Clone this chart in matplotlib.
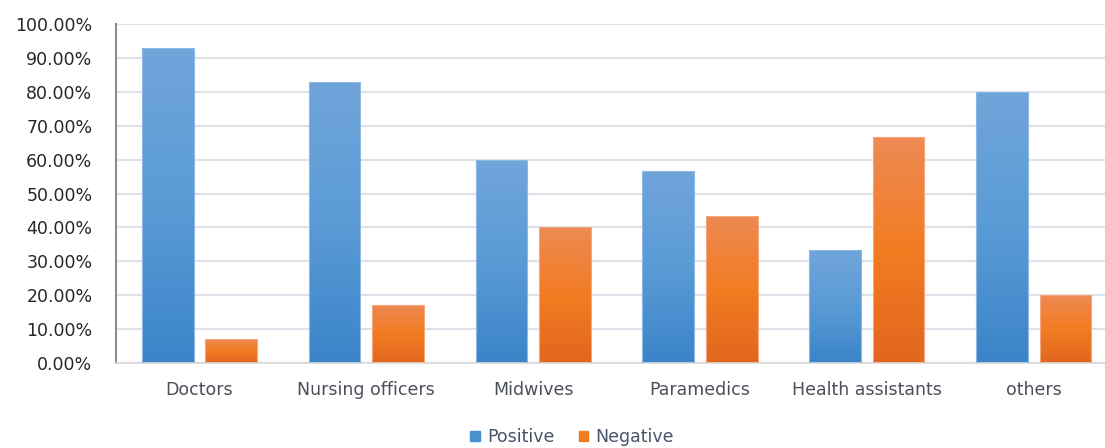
import numpy as np
import matplotlib.pyplot as plt
from matplotlib.patches import Patch
from matplotlib.colors import LinearSegmentedColormap

categories = ['Doctors', 'Nursing officers', 'Midwives', 'Paramedics',
              'Health assistants', 'others']
positive = [92.86, 82.86, 60.00, 56.52, 33.33, 80.00]
negative = [7.14, 17.14, 40.00, 43.48, 66.67, 20.00]

blue_grad = LinearSegmentedColormap.from_list('b', ['#3b84c8', '#5a9bd6', '#70a5da'])
orange_grad = LinearSegmentedColormap.from_list('o', ['#e2661f', '#f27c22', '#ee8a55'])

plt.rcParams['font.family'] = ['DejaVu Sans']
fig = plt.figure(figsize=(11.05, 4.48), dpi=100)
ax = fig.add_axes([0.105, 0.1897, 0.906, 0.7567])

x = np.arange(len(categories))
w = 0.31
off = 0.19
grad = np.linspace(0, 1, 256).reshape(-1, 1)

def gradient_bars(xs, vals, cmap, edge):
    bars = ax.bar(xs, vals, w, color='none', edgecolor=edge, linewidth=0.8, zorder=3)
    for b in bars:
        x0, y0 = b.get_x(), b.get_y()
        im = ax.imshow(grad, cmap=cmap, origin='lower', aspect='auto',
                       extent=[x0, x0 + b.get_width(), y0, y0 + b.get_height()],
                       zorder=2)
        im.set_clip_path(b)
    return bars

gradient_bars(x - off, positive, blue_grad, '#8db8e3')
gradient_bars(x + off, negative, orange_grad, '#f3a77a')

ax.set_xlim(-0.5, len(categories) - 0.5)
ax.set_ylim(0, 100)
ax.set_yticks(np.arange(0, 101, 10))
ax.set_yticklabels([f'{v:.2f}%' for v in np.arange(0, 101, 10)])
ax.set_xticks(x)
ax.set_xticklabels(categories)
ax.yaxis.grid(True, color='#dde2ea', linewidth=1.5, zorder=0)
ax.set_axisbelow(True)

for s in ['top', 'right']:
    ax.spines[s].set_visible(False)
ax.spines['left'].set_color('#8c8c8c')
ax.spines['left'].set_linewidth(1.5)
ax.spines['bottom'].set_color('#d9d9d9')
ax.spines['bottom'].set_linewidth(1.2)
ax.tick_params(axis='y', length=0, pad=17, labelsize=12.5, labelcolor='#262626')
ax.tick_params(axis='x', length=0, pad=13, labelsize=12.5, labelcolor='#4a4f5a')

handles = [Patch(color='#4a90d0', label='Positive'),
           Patch(color='#f07b22', label='Negative')]
fig.legend(handles=handles, loc='center', bbox_to_anchor=(572 / 1105, 1 - 437 / 448),
           ncol=2, frameon=False, fontsize=12.5, handlelength=0.55, handleheight=0.55,
           handletextpad=0.4, columnspacing=1.4, labelcolor='#4a5468')

fig.savefig('out.png', dpi=100)
